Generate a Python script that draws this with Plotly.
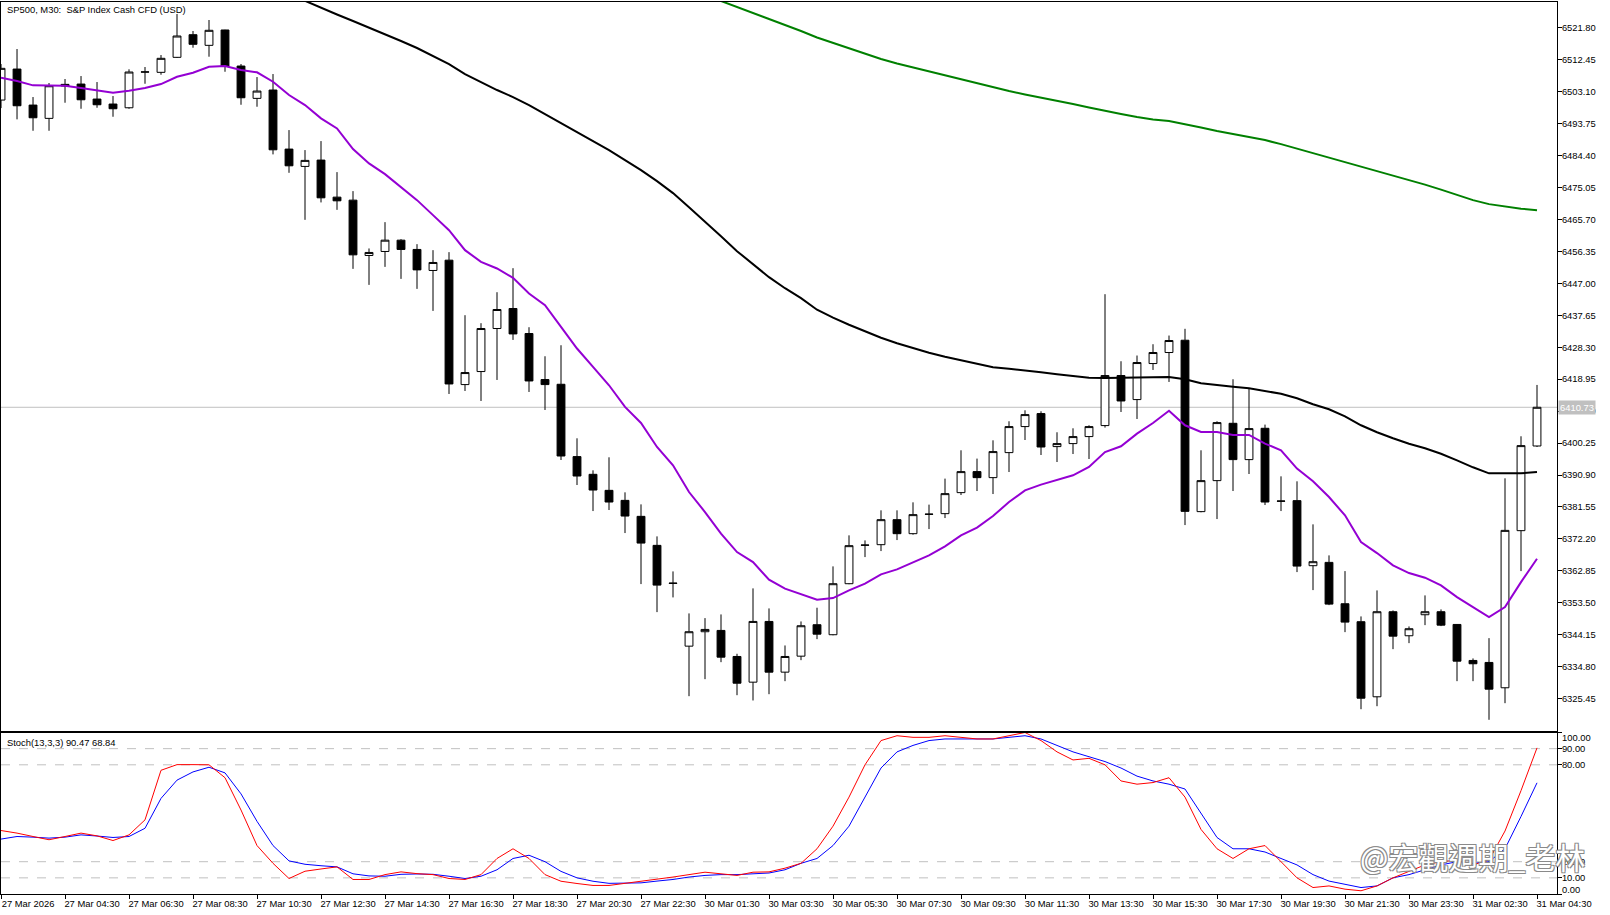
import pandas as pd
import plotly.graph_objects as go

# ---------------- data ----------------
sessions = [("2026-03-27 02:30", "2026-03-27 23:30"),
            ("2026-03-30 01:00", "2026-03-30 23:30"),
            ("2026-03-31 01:00", "2026-03-31 04:30")]
times = []
for a, b in sessions:
    times += [t.strftime("%Y-%m-%d %H:%M") for t in pd.date_range(a, b, freq="30min")]

open_ = [6500.63, 6509.70, 6499.16, 6495.27, 6505.22, 6505.31, 6500.92, 6499.46, 6498.37, 6508.80,
         6508.74, 6513.13, 6519.75, 6516.64, 6521.13, 6510.58, 6501.12, 6503.56, 6486.28, 6481.21,
         6483.06, 6472.22, 6471.34, 6455.15, 6456.32, 6459.63, 6456.91, 6450.76, 6453.77, 6417.37,
         6421.18, 6433.77, 6439.63, 6432.31, 6418.84, 6417.46, 6396.29, 6391.11, 6386.42, 6383.49,
         6378.81, 6370.32, 6359.30, 6340.83, 6345.05, 6345.43, 6337.81, 6330.29, 6348.06, 6333.22,
         6337.90, 6347.10, 6344.17, 6359.10, 6370.35, 6370.52, 6377.84, 6373.74, 6379.40, 6379.60,
         6385.75, 6391.90, 6390.14, 6397.46, 6405.08, 6408.88, 6399.22, 6400.10, 6402.15, 6405.37,
         6420.01, 6412.98, 6423.52, 6426.75, 6430.35, 6380.19, 6389.26, 6406.04, 6395.41, 6404.58,
         6383.30, 6383.41, 6364.37, 6365.34, 6353.24, 6347.98, 6326.01, 6350.90, 6343.87, 6350.02,
         6350.90, 6347.18, 6336.64, 6336.06, 6328.65, 6374.62, 6399.40]
high = [6511.17, 6515.56, 6501.51, 6505.61, 6506.78, 6507.65, 6505.90, 6501.80, 6509.62, 6510.29,
        6513.80, 6525.81, 6520.83, 6524.05, 6521.20, 6511.17, 6507.36, 6508.24, 6491.84, 6485.99,
        6488.62, 6479.54, 6473.98, 6457.20, 6464.90, 6459.92, 6458.46, 6456.70, 6456.12, 6437.67,
        6435.33, 6444.40, 6451.43, 6434.15, 6425.66, 6428.88, 6401.65, 6392.28, 6396.09, 6385.84,
        6382.32, 6372.95, 6362.70, 6350.41, 6349.03, 6350.11, 6338.60, 6357.73, 6351.87, 6341.03,
        6348.06, 6352.07, 6364.17, 6373.25, 6371.78, 6380.57, 6380.57, 6382.91, 6382.24, 6389.85,
        6398.14, 6395.71, 6401.06, 6406.63, 6409.85, 6409.56, 6403.41, 6404.58, 6405.46, 6443.82,
        6424.20, 6425.87, 6429.18, 6431.72, 6433.69, 6398.14, 6406.63, 6418.93, 6416.20, 6405.66,
        6390.52, 6389.06, 6376.47, 6367.39, 6362.79, 6349.53, 6357.14, 6351.28, 6346.60, 6355.68,
        6351.58, 6347.30, 6337.23, 6343.17, 6389.94, 6402.24, 6417.26]
low = [6498.28, 6494.98, 6491.64, 6491.64, 6499.84, 6498.08, 6498.37, 6495.74, 6498.08, 6505.40,
       6508.04, 6512.95, 6515.94, 6513.31, 6508.91, 6499.25, 6498.67, 6484.73, 6479.34, 6465.58,
       6470.67, 6468.50, 6451.23, 6446.54, 6451.81, 6448.30, 6445.37, 6438.93, 6414.62, 6415.50,
       6412.57, 6418.72, 6430.44, 6415.21, 6409.94, 6395.30, 6387.98, 6380.36, 6380.66, 6373.92,
       6358.99, 6350.79, 6355.09, 6326.19, 6331.17, 6336.14, 6326.48, 6324.93, 6326.77, 6330.58,
       6336.73, 6342.88, 6344.00, 6358.95, 6366.89, 6368.65, 6371.87, 6373.45, 6375.09, 6378.31,
       6385.05, 6386.22, 6385.34, 6391.78, 6401.15, 6396.76, 6394.71, 6397.05, 6395.59, 6404.78,
       6409.35, 6407.30, 6421.65, 6418.14, 6376.26, 6380.00, 6378.02, 6386.22, 6391.20, 6382.12,
       6380.36, 6362.50, 6357.23, 6352.83, 6344.93, 6322.38, 6323.26, 6339.95, 6341.71, 6346.98,
       6346.69, 6330.58, 6330.58, 6319.28, 6324.14, 6362.79, 6399.10]
close = [6509.91, 6498.96, 6495.44, 6504.81, 6504.73, 6500.71, 6499.25, 6498.08, 6508.83, 6508.86,
         6512.84, 6519.37, 6516.94, 6521.04, 6510.58, 6501.30, 6503.26, 6486.07, 6481.39, 6482.97,
         6472.02, 6471.14, 6455.33, 6456.03, 6459.63, 6456.91, 6450.93, 6453.10, 6417.55, 6420.89,
         6433.77, 6439.34, 6432.19, 6418.43, 6417.37, 6396.47, 6390.61, 6386.51, 6383.00, 6378.90,
         6370.99, 6358.69, 6359.20, 6345.05, 6345.72, 6337.61, 6329.99, 6348.06, 6333.22, 6337.81,
         6346.80, 6344.34, 6359.10, 6370.23, 6370.40, 6377.84, 6373.74, 6379.31, 6379.45, 6385.46,
         6391.90, 6390.14, 6397.76, 6405.08, 6408.59, 6399.10, 6400.10, 6402.15, 6405.08, 6420.01,
         6412.57, 6423.82, 6426.75, 6430.26, 6380.27, 6389.26, 6406.25, 6395.41, 6404.49, 6383.00,
         6383.25, 6364.26, 6365.54, 6353.13, 6347.86, 6325.60, 6350.90, 6343.76, 6345.93, 6350.90,
         6346.98, 6336.44, 6335.68, 6328.24, 6374.71, 6399.51, 6410.73]

ma_purple = [6507.16, 6506.19, 6504.93, 6504.81, 6504.81, 6504.14, 6503.56, 6502.77, 6503.35, 6504.14,
             6505.31, 6507.45, 6508.62, 6510.38, 6510.58, 6509.41, 6508.74, 6505.99, 6502.09, 6499.16,
             6495.27, 6492.34, 6486.28, 6482.09, 6478.96, 6475.24, 6471.34, 6466.95, 6462.56, 6456.70,
             6453.28, 6451.34, 6448.59, 6444.02, 6440.60, 6434.24, 6427.92, 6422.53, 6417.17, 6410.82,
             6406.13, 6399.10, 6393.75, 6385.93, 6380.07, 6373.75, 6368.36, 6365.43, 6360.28, 6357.64,
             6355.97, 6354.42, 6354.89, 6357.14, 6359.11, 6361.83, 6363.29, 6365.43, 6367.39, 6370.03,
             6373.25, 6375.50, 6378.90, 6383.00, 6386.42, 6388.09, 6389.35, 6390.82, 6393.25, 6397.64,
             6399.31, 6403.02, 6406.13, 6409.70, 6405.46, 6403.50, 6403.50, 6402.62, 6402.62, 6400.10,
             6398.14, 6392.78, 6389.06, 6384.46, 6379.10, 6371.28, 6368.07, 6364.46, 6362.21, 6360.86,
             6358.61, 6355.18, 6352.25, 6349.32, 6352.25, 6359.57, 6366.42]
ma_black = [None] * 18 + [
    6531.67, 6529.62,
    6527.57, 6525.66, 6523.76, 6521.86, 6519.95, 6517.90, 6515.85, 6513.51, 6511.17, 6508.24,
    6505.90, 6503.56, 6501.51, 6499.16, 6496.53, 6493.89, 6491.26, 6488.62, 6485.99, 6483.06,
    6480.13, 6476.91, 6473.40, 6469.29, 6465.19, 6460.80, 6456.41, 6452.60, 6448.80, 6445.57,
    6442.65, 6439.28, 6436.94, 6434.89, 6432.98, 6431.08, 6429.47, 6428.01, 6426.69, 6425.52,
    6424.49, 6423.47, 6422.44, 6422.00, 6421.56, 6420.98, 6420.39, 6419.81, 6419.37, 6419.31,
    6419.31, 6419.31, 6419.51, 6419.60, 6418.93, 6417.76, 6417.17, 6416.73, 6416.29, 6415.56,
    6414.68, 6413.36, 6411.61, 6410.14, 6408.09, 6405.46, 6403.41, 6401.65, 6400.04, 6398.72,
    6397.11, 6395.21, 6393.16, 6391.40, 6391.31, 6391.40, 6391.78]
ma_green = [None] * 44 + [
    6531.37, 6529.62, 6528.01, 6526.25, 6524.35, 6522.59,
    6520.83, 6518.93, 6517.32, 6515.71, 6514.10, 6512.63, 6511.32, 6510.14, 6508.97, 6507.80,
    6506.63, 6505.46, 6504.43, 6503.26, 6502.24, 6501.36, 6500.33, 6499.46, 6498.43, 6497.41,
    6496.53, 6495.65, 6494.92, 6494.48, 6493.60, 6492.57, 6491.55, 6490.67, 6489.79, 6488.91,
    6487.74, 6486.42, 6485.11, 6483.79, 6482.47, 6481.15, 6479.98, 6478.66, 6477.35, 6475.88,
    6474.42, 6472.81, 6471.34, 6470.17, 6469.44, 6468.85, 6468.41]

stoch_main = [39.3, 37.7, 35.6, 33.6, 35.6, 37.7, 36.0, 33.1, 36.6, 45.9,
              76.6, 80.1, 80.1, 80.0, 72.0, 52.0, 30.0, 19.0, 9.6, 14.1,
              15.5, 16.8, 9.0, 9.0, 12.0, 13.7, 12.6, 12.0, 9.6, 9.0,
              12.0, 22.0, 28.0, 22.0, 12.0, 7.9, 6.5, 5.3, 5.3, 6.5,
              8.0, 9.3, 10.5, 12.0, 13.5, 12.5, 11.5, 13.5, 13.7, 16.0,
              19, 28, 42, 60, 80, 95, 98, 97, 97, 98,
              97, 96, 96, 98, 100, 95, 88, 83, 84, 80,
              70, 68, 69, 72, 60, 40, 28, 22, 28, 30,
              20, 10, 4, 5, 3, 2, 5, 10, 14, 18,
              20, 21, 18, 21, 39, 64, 90.47]
stoch_signal = [34.0, 35.6, 35.2, 34.6, 35.2, 36.6, 35.9, 35.0, 35.6, 40.7,
                59.2, 70.5, 75.6, 78.5, 75.0, 62.0, 45.0, 30.0, 20.5, 18.4,
                17.5, 16.8, 12.5, 11.2, 11.0, 12.2, 12.4, 12.2, 11.0, 9.6,
                11.0, 15.0, 22.0, 24.0, 20.0, 14.0, 10.0, 7.9, 6.6, 6.6,
                6.9, 8.0, 9.0, 10.5, 11.5, 12.0, 12.0, 12.5, 13.0, 15.0,
                19, 22, 30, 42, 60, 78, 88, 92, 95, 96,
                96, 96, 96, 97, 98, 96, 92, 88, 85, 82,
                78, 73, 70, 68, 65, 50, 35, 28, 28, 26,
                22, 18, 12, 8, 6, 4, 5, 10, 12, 15,
                18, 20, 19, 20, 28, 48, 68.84]

tick_labels = ["27 Mar 2026", "27 Mar 04:30", "27 Mar 06:30", "27 Mar 08:30", "27 Mar 10:30",
               "27 Mar 12:30", "27 Mar 14:30", "27 Mar 16:30", "27 Mar 18:30", "27 Mar 20:30",
               "27 Mar 22:30", "30 Mar 01:30", "30 Mar 03:30", "30 Mar 05:30", "30 Mar 07:30",
               "30 Mar 09:30", "30 Mar 11:30", "30 Mar 13:30", "30 Mar 15:30", "30 Mar 17:30",
               "30 Mar 19:30", "30 Mar 21:30", "30 Mar 23:30", "31 Mar 02:30", "31 Mar 04:30"]
price_ticks = [6325.45 + 9.35 * k for k in range(22)]
stoch_ticks = [0, 10, 20, 80, 90, 100]
stoch_levels = [10, 20, 80, 90]
last_price = 6410.73

# ---------------- figure ----------------
FONT = "Liberation Sans"
FS = 9.4
W, H = 1610, 915
ML, MR, MT, MB = 1, 53, 2, 21
plot_w = W - ML - MR
plot_h = H - MT - MB

def py(px):  # pixel row -> paper y
    return (H - MB - px) / plot_h

def px_(x):  # pixel column -> paper x
    return (x - ML) / plot_w

fig = go.Figure()
fig.add_trace(go.Candlestick(
    x=times, open=open_, high=high, low=low, close=close,
    xaxis="x", yaxis="y", whiskerwidth=0, showlegend=False, hoverinfo="skip",
    increasing=dict(line=dict(color="black", width=1), fillcolor="white"),
    decreasing=dict(line=dict(color="black", width=1), fillcolor="black")))
fig.add_trace(go.Scatter(x=times, y=ma_green, mode="lines", xaxis="x", yaxis="y",
                         line=dict(color="#008000", width=2), showlegend=False, hoverinfo="skip"))
fig.add_trace(go.Scatter(x=times, y=ma_black, mode="lines", xaxis="x", yaxis="y",
                         line=dict(color="#000000", width=2), showlegend=False, hoverinfo="skip"))
fig.add_trace(go.Scatter(x=times, y=ma_purple, mode="lines", xaxis="x", yaxis="y",
                         line=dict(color="#9400D3", width=2), showlegend=False, hoverinfo="skip"))
fig.add_trace(go.Scatter(x=times, y=stoch_signal, mode="lines", xaxis="x2", yaxis="y2",
                         line=dict(color="#0000FF", width=1), showlegend=False, hoverinfo="skip"))
fig.add_trace(go.Scatter(x=times, y=stoch_main, mode="lines", xaxis="x2", yaxis="y2",
                         line=dict(color="#FF0000", width=1), showlegend=False, hoverinfo="skip"))

xr = [-0.001, 97.25]
tickvals = [times[i] for i in range(0, len(times), 4)]
axfont = dict(family=FONT, size=FS, color="black")

shapes = [dict(type="line", xref="x domain", x0=0, x1=1, yref="y", y0=last_price, y1=last_price,
               line=dict(color="#C0C0C0", width=1), layer="below")]
for lv in stoch_levels:
    shapes.append(dict(type="line", xref="x2 domain", x0=0, x1=1, yref="y2", y0=lv, y1=lv,
                       line=dict(color="#C0C0C0", width=1, dash="dash"), layer="below"))

annotations = [
    dict(text="SP500, M30:\u00a0 S&P Index Cash CFD (USD)", xref="paper", yref="paper",
         x=px_(5), y=py(9.5), xanchor="left", yanchor="middle", showarrow=False, font=axfont),
    dict(text="Stoch(13,3,3) 90.47 68.84", xref="paper", yref="paper",
         x=px_(5), y=py(742), xanchor="left", yanchor="middle", showarrow=False, font=axfont),
    dict(text="100.00", xref="paper", yref="y2", x=1, y=100, xanchor="left", yanchor="middle",
         xshift=3, yshift=-5, showarrow=False, font=axfont),
    dict(text="0.00", xref="paper", yref="y2", x=1, y=0, xanchor="left", yanchor="middle",
         xshift=3, yshift=5, showarrow=False, font=axfont),
    dict(text=f"{last_price:.2f}", xref="paper", yref="y", x=1, y=last_price, xanchor="left",
         yanchor="middle", xshift=1, showarrow=False, bgcolor="#C0C0C0", borderpad=1,
         font=dict(family=FONT, size=FS, color="white")),
    dict(text="@宏觀週期_老林", xref="paper", yref="paper", x=px_(1358), y=py(856),
         xanchor="left", yanchor="middle", showarrow=False,
         font=dict(family="Noto Sans CJK TC", size=30, color="white",
                   shadow="-1px -1px 0 #8a8a8a, 1px -1px 0 #8a8a8a, -1px 1px 0 #8a8a8a, 1px 1px 0 #8a8a8a")),
]

fig.update_layout(
    width=W, height=H, margin=dict(l=ML, r=MR, t=MT, b=MB),
    paper_bgcolor="white", plot_bgcolor="white",
    showlegend=False, hovermode=False,
    font=dict(family=FONT, size=FS, color="black"),
    xaxis=dict(type="category", domain=[0, 1], anchor="y", range=xr, showgrid=False,
               zeroline=False, showticklabels=False, ticks="", showline=True, mirror=True,
               linecolor="black", linewidth=1, rangeslider=dict(visible=False), fixedrange=True),
    yaxis=dict(domain=[py(731), 1], anchor="x", side="right", range=[6316.0, 6529.32],
               tickvals=price_ticks, ticktext=[f"{v:.2f}" for v in price_ticks],
               ticks="outside", ticklen=4, tickcolor="black", showgrid=False, zeroline=False,
               ticklabelstandoff=-2,
               showline=True, mirror=True, linecolor="black", linewidth=1, tickfont=axfont),
    xaxis2=dict(type="category", domain=[0, 1], anchor="y2", range=xr, showgrid=False,
                zeroline=False, tickvals=tickvals, ticktext=tick_labels, ticks="outside",
                ticklen=4, tickcolor="black", tickangle=0, ticklabelshift=27,
                ticklabelstandoff=-3,
                showline=True, mirror=True, linecolor="black", linewidth=1, tickfont=axfont),
    yaxis2=dict(domain=[0, py(732.5)], anchor="x2", side="right", range=[0, 100],
                tickvals=stoch_ticks, ticktext=["", "10.00", "20.00", "80.00", "90.00", ""],
                ticks="outside", ticklen=4, tickcolor="black", showgrid=False, zeroline=False,
                ticklabelstandoff=-2,
                showline=True, mirror=True, linecolor="black", linewidth=1, tickfont=axfont),
    shapes=shapes, annotations=annotations,
)

fig.write_html("out.html")
